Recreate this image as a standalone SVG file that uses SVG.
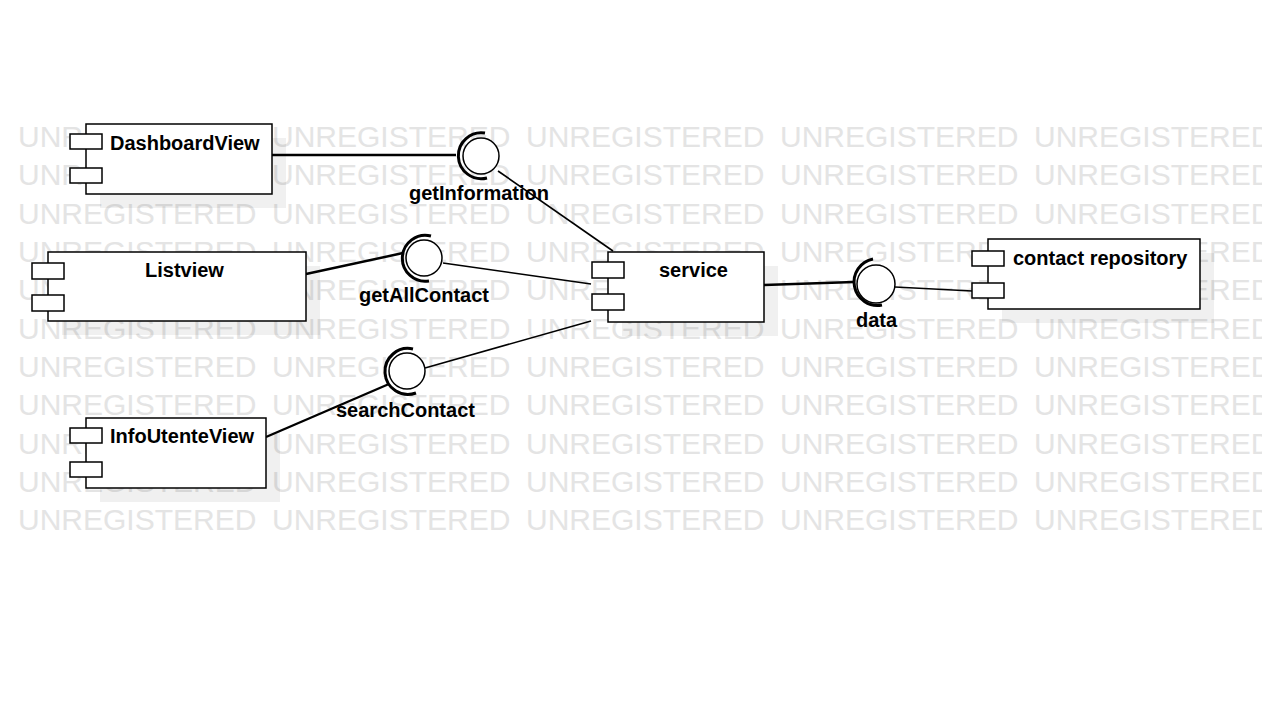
<svg xmlns="http://www.w3.org/2000/svg" xmlns:xlink="http://www.w3.org/1999/xlink" width="1280" height="720" viewBox="0 0 1280 720">
<style>
.wm{font-family:"Liberation Sans",Arial,sans-serif;font-size:30px;fill:#e4e4e4}
.box{fill:#fff;stroke:#000;stroke-width:1.5}
.port{fill:#fff;stroke:#000;stroke-width:1.5}
.shadow{fill:#000;fill-opacity:0.06}
.lbl{font-family:"Liberation Sans",Arial,sans-serif;font-size:20px;font-weight:bold;fill:#000}
.ball{fill:#fff;stroke:#000;stroke-width:1.5}
.sock{fill:none;stroke:#000;stroke-width:3}
.conn{stroke:#000;stroke-width:1.6;fill:none}
.thick{stroke-width:2.4}
</style>
<defs>
<clipPath id="wmclip"><rect x="0" y="0" width="1262" height="720"/></clipPath>
<g id="wmrow">
<text class="wm" x="18" y="0">UNREGISTERED</text>
<text class="wm" x="272" y="0">UNREGISTERED</text>
<text class="wm" x="526" y="0">UNREGISTERED</text>
<text class="wm" x="780" y="0">UNREGISTERED</text>
<text class="wm" x="1034" y="0">UNREGISTERED</text>
</g>
</defs>
<rect width="1280" height="720" fill="#fff"/>
<g id="watermark" clip-path="url(#wmclip)">
<use xlink:href="#wmrow" transform="translate(0,147)"/>
<use xlink:href="#wmrow" transform="translate(0,185)"/>
<use xlink:href="#wmrow" transform="translate(0,224)"/>
<use xlink:href="#wmrow" transform="translate(0,262)"/>
<use xlink:href="#wmrow" transform="translate(0,300)"/>
<use xlink:href="#wmrow" transform="translate(0,339)"/>
<use xlink:href="#wmrow" transform="translate(0,377)"/>
<use xlink:href="#wmrow" transform="translate(0,415)"/>
<use xlink:href="#wmrow" transform="translate(0,454)"/>
<use xlink:href="#wmrow" transform="translate(0,492)"/>
<use xlink:href="#wmrow" transform="translate(0,530)"/>
</g>
<g id="shadows">
<rect class="shadow" x="100" y="138" width="186" height="70"/>
<rect class="shadow" x="62" y="266" width="258" height="69"/>
<rect class="shadow" x="100" y="432" width="180" height="70"/>
<rect class="shadow" x="622" y="266" width="156" height="70"/>
<rect class="shadow" x="1002" y="253" width="212" height="70"/>
</g>
<g id="connectors">
<line class="conn thick" x1="272" y1="155" x2="456" y2="155"/>
<line class="conn" x1="498" y1="171" x2="613" y2="251"/>
<line class="conn thick" x1="306" y1="274" x2="403" y2="253"/>
<line class="conn" x1="443" y1="263" x2="591" y2="284"/>
<line class="conn" x1="591" y1="321" x2="425" y2="368"/>
<line class="conn thick" x1="266" y1="437" x2="389" y2="384"/>
<line class="conn thick" x1="764" y1="285" x2="854" y2="282"/>
<line class="conn" x1="895" y1="287" x2="972" y2="291"/>
</g>
<g id="DashboardView">
<rect class="box" x="86" y="124" width="186" height="70"/>
<rect class="port" x="70" y="134" width="32" height="15"/>
<rect class="port" x="70" y="168" width="32" height="15"/>
<text class="lbl" x="110" y="150">DashboardView</text>
</g>
<g id="Listview">
<rect class="box" x="48" y="252" width="258" height="69"/>
<rect class="port" x="32" y="263" width="32" height="16"/>
<rect class="port" x="32" y="295" width="32" height="16"/>
<text class="lbl" x="145" y="277">Listview</text>
</g>
<g id="InfoUtenteView">
<rect class="box" x="86" y="418" width="180" height="70"/>
<rect class="port" x="70" y="428" width="32" height="15"/>
<rect class="port" x="70" y="462" width="32" height="15"/>
<text class="lbl" x="110" y="443">InfoUtenteView</text>
</g>
<g id="service">
<rect class="box" x="608" y="252" width="156" height="70"/>
<rect class="port" x="592" y="262" width="32" height="16"/>
<rect class="port" x="592" y="294" width="32" height="16"/>
<text class="lbl" x="659" y="277">service</text>
</g>
<g id="contact-repository">
<rect class="box" x="988" y="239" width="212" height="70"/>
<rect class="port" x="972" y="251" width="32" height="15"/>
<rect class="port" x="972" y="283" width="32" height="15"/>
<text class="lbl" x="1013" y="265">contact repository</text>
</g>
<g id="getInformation">
<circle class="ball" cx="481" cy="156" r="18"/>
<path class="sock" d="M485,133 A23,23 0 1 0 487,178"/>
<text class="lbl" x="409" y="200">getInformation</text>
</g>
<g id="getAllContact">
<circle class="ball" cx="424" cy="258" r="18"/>
<path class="sock" d="M431,236 A23,23 0 1 0 429,281"/>
<text class="lbl" x="359" y="302">getAllContact</text>
</g>
<g id="searchContact">
<circle class="ball" cx="407" cy="371" r="18"/>
<path class="sock" d="M413,349 A23,23 0 1 0 416,393"/>
<text class="lbl" x="336" y="417">searchContact</text>
</g>
<g id="data">
<circle class="ball" cx="876" cy="284" r="19"/>
<path class="sock" d="M873,259 A23,23 0 1 0 882,305"/>
<text class="lbl" x="856" y="327">data</text>
</g>
</svg>
